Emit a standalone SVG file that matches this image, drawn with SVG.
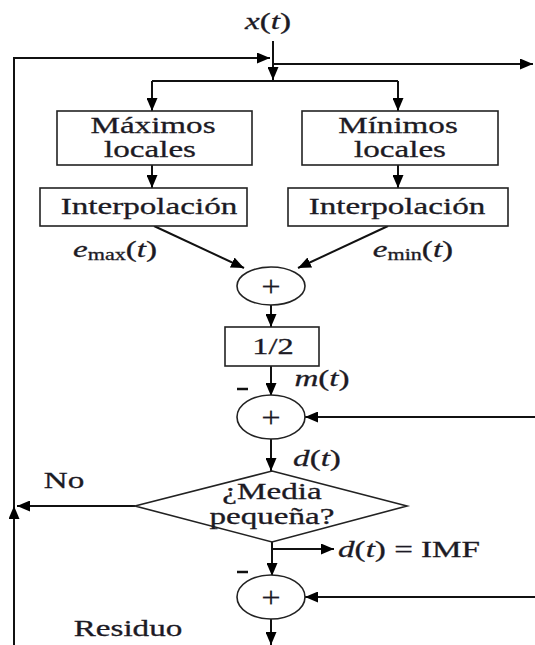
<svg xmlns="http://www.w3.org/2000/svg" width="535" height="645" viewBox="0 0 535 645">
<style>
.t{font-family:"Liberation Serif","Times New Roman",serif;font-size:24px;fill:#1c1a24;stroke:#1c1a24;stroke-width:0.3;text-anchor:middle}
.i{font-style:italic}
.p{font-size:30px;stroke-width:0.1}
.b{fill:#fff;stroke:#222;stroke-width:1.6}
.l{fill:none;stroke:#111;stroke-width:2}
</style>
<defs>
<marker id="ah" markerUnits="userSpaceOnUse" markerWidth="13" markerHeight="11" refX="13" refY="5.5" orient="auto">
<path d="M0,0 L13,5.5 L0,11 z" fill="#000"/>
</marker>
</defs>
<rect width="535" height="645" fill="#fff"/>
<g id="connectors">
<path class="l" d="M14,645 V58 H270" marker-end="url(#ah)"/>
<path class="l" d="M14,645 V506" marker-end="url(#ah)" stroke-width="2.5"/>
<path class="l" d="M273,41 V80" marker-end="url(#ah)" stroke-width="2.5"/>
<path class="l" d="M273,64 H533" marker-end="url(#ah)"/>
<path class="l" d="M152,81 H398"/>
<path class="l" d="M152,81 V111" marker-end="url(#ah)"/>
<path class="l" d="M398,81 V111" marker-end="url(#ah)"/>
<path class="l" d="M152,165 V188" marker-end="url(#ah)"/>
<path class="l" d="M398,165 V188" marker-end="url(#ah)"/>
<path class="l" d="M154,226 L244,268" marker-end="url(#ah)"/>
<path class="l" d="M388,226 L298,268" marker-end="url(#ah)"/>
<path class="l" d="M271,305 V327" marker-end="url(#ah)"/>
<path class="l" d="M271,366 V396" marker-end="url(#ah)"/>
<path class="l" d="M535,417 H305" marker-end="url(#ah)"/>
<path class="l" d="M271,439 V471" marker-end="url(#ah)"/>
<path class="l" d="M135,506 H17" marker-end="url(#ah)"/>
<path class="l" d="M272,542 V576" marker-end="url(#ah)"/>
<path class="l" d="M272,549 H334" marker-end="url(#ah)"/>
<path class="l" d="M535,597 H305" marker-end="url(#ah)"/>
<path class="l" d="M271,619 V645" marker-end="url(#ah)"/>
</g>
<g id="input">
<text class="t" transform="translate(268,29) scale(1.38,1)"><tspan class="i">x</tspan>(<tspan class="i">t</tspan>)</text>
</g>
<g id="maximos">
<rect class="b" x="57" y="111" width="195" height="54"/>
<text class="t" transform="translate(153,133) scale(1.38,1)">Máximos</text>
<text class="t" transform="translate(150,157) scale(1.38,1)">locales</text>
</g>
<g id="minimos">
<rect class="b" x="302" y="111" width="196" height="54"/>
<text class="t" transform="translate(398,133) scale(1.38,1)">Mínimos</text>
<text class="t" transform="translate(400,157) scale(1.38,1)">locales</text>
</g>
<g id="interp-max">
<rect class="b" x="40" y="188" width="207" height="38"/>
<text class="t" transform="translate(149,214) scale(1.38,1)">Interpolación</text>
</g>
<g id="interp-min">
<rect class="b" x="288" y="188" width="220" height="38"/>
<text class="t" transform="translate(397,214) scale(1.38,1)">Interpolación</text>
</g>
<g id="labels-env">
<text class="t" transform="translate(115,257) scale(1.38,1)"><tspan class="i">e</tspan><tspan font-size="16" dy="3">max</tspan><tspan dy="-3">(</tspan><tspan class="i">t</tspan>)</text>
<text class="t" transform="translate(413,257) scale(1.38,1)"><tspan class="i">e</tspan><tspan font-size="16" dy="3">min</tspan><tspan dy="-3">(</tspan><tspan class="i">t</tspan>)</text>
</g>
<g id="sum1">
<ellipse class="b" cx="271" cy="286" rx="34" ry="19"/>
<text class="t p" transform="translate(271,296) scale(1.15,1)">+</text>
</g>
<g id="half">
<rect class="b" x="225" y="327" width="94" height="39"/>
<text class="t" transform="translate(273,354) scale(1.35,1)">1/2</text>
</g>
<g id="sum2">
<ellipse class="b" cx="271" cy="417" rx="34" ry="22"/>
<text class="t p" transform="translate(271,427) scale(1.15,1)">+</text>
<text class="t" transform="translate(322,386) scale(1.38,1)"><tspan class="i">m</tspan>(<tspan class="i">t</tspan>)</text>
<path d="M237,389 H248" stroke="#111" stroke-width="2.5"/>
<text class="t" transform="translate(317,466) scale(1.38,1)"><tspan class="i">d</tspan>(<tspan class="i">t</tspan>)</text>
</g>
<g id="decision">
<path class="b" d="M272,471 L407,506 L272,542 L135,506 z"/>
<text class="t" transform="translate(272,499) scale(1.38,1)">¿Media</text>
<text class="t" transform="translate(272,524) scale(1.38,1)">pequeña?</text>
<text class="t" transform="translate(64,488) scale(1.38,1)">No</text>
<text class="t" transform="translate(409,557) scale(1.38,1)"><tspan class="i">d</tspan>(<tspan class="i">t</tspan>) = IMF</text>
</g>
<g id="sum3">
<ellipse class="b" cx="271" cy="597" rx="34" ry="22"/>
<text class="t p" transform="translate(271,607) scale(1.15,1)">+</text>
<path d="M237,572 H248" stroke="#111" stroke-width="2.5"/>
<text class="t" transform="translate(128,636) scale(1.38,1)">Residuo</text>
</g>
</svg>
